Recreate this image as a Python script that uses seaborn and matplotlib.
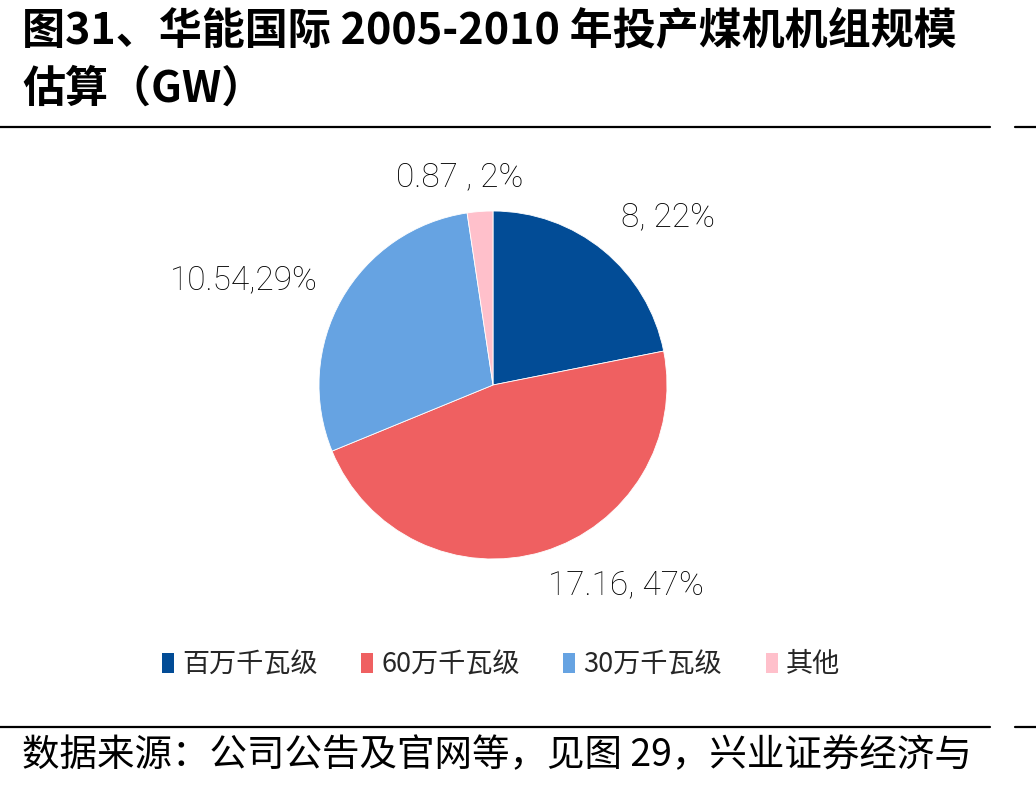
import matplotlib
matplotlib.use("Agg")
import matplotlib.pyplot as plt
import seaborn as sns
from matplotlib.patches import Patch
from matplotlib.lines import Line2D

# data
categories = ["百万千瓦级", "60万千瓦级", "30万千瓦级", "其他"]
capacity_gw = [8, 17.16, 10.54, 0.87]
pct_labels = ["8, 22%", "17.16, 47%", "10.54,29%", "0.87 , 2%"]
colors = ["#024C96", "#EF6061", "#66A3E2", "#FFC0CB"]

title_lines = ["图31、华能国际 2005-2010 年投产煤机机组规模", "估算（GW）"]
source_text = "数据来源：公司公告及官网等，见图 29，兴业证券经济与"

sns.set_style("white")
plt.rcParams["font.family"] = ["Noto Sans CJK SC", "DejaVu Sans"]

W, H = 1036, 789
fig = plt.figure(figsize=(W / 100, H / 100), dpi=100)

# pie axes: centre (493, 385) px, radius 174 px
cx, cy, r = 493, 385, 174
ax = fig.add_axes([(cx - r) / W, (H - cy - r) / H, 2 * r / W, 2 * r / H])
ax.pie(capacity_gw, colors=sns.color_palette(colors), startangle=90,
       counterclock=False, wedgeprops=dict(linewidth=0.6, edgecolor="white"))
ax.set_xlim(-1, 1)
ax.set_ylim(-1, 1)
ax.set_aspect("equal")
ax.axis("off")

label_pos = [(1.006, 0.966), (0.764, -1.149), (-1.431, 0.603), (-0.19, 1.195)]
for txt, (x, y) in zip(pct_labels, label_pos):
    ax.text(x, y, txt, ha="center", va="center", fontsize=24,
            family=["Roboto", "DejaVu Sans"], fontweight="light",
            color="black", clip_on=False)

# title
fig.text(22 / W, 1 - 31 / H, title_lines[0], fontsize=31, fontweight="bold",
         va="center", ha="left", color="black")
fig.text(22 / W, 1 - 89 / H, title_lines[1], fontsize=31, fontweight="bold",
         va="center", ha="left", color="black")

# rules
for yy in (127, 727):
    fig.add_artist(Line2D([0, 990 / W], [1 - yy / H] * 2, color="black", lw=1.6))
    fig.add_artist(Line2D([1015 / W, 1], [1 - yy / H] * 2, color="black", lw=1.6))

# legend
handles = [Patch(facecolor=c, edgecolor="none") for c in colors]
fig.legend(handles, categories, loc="center", bbox_to_anchor=(501 / W, 1 - 665 / H),
           ncol=4, frameon=False, fontsize=19.5, handlelength=0.45, handleheight=0.8,
           handletextpad=0.3, columnspacing=1.6)

# source
fig.text(22 / W, 1 - 756 / H, source_text, fontsize=27, va="center", ha="left",
         color="black")

fig.savefig("out.png", dpi=100)
